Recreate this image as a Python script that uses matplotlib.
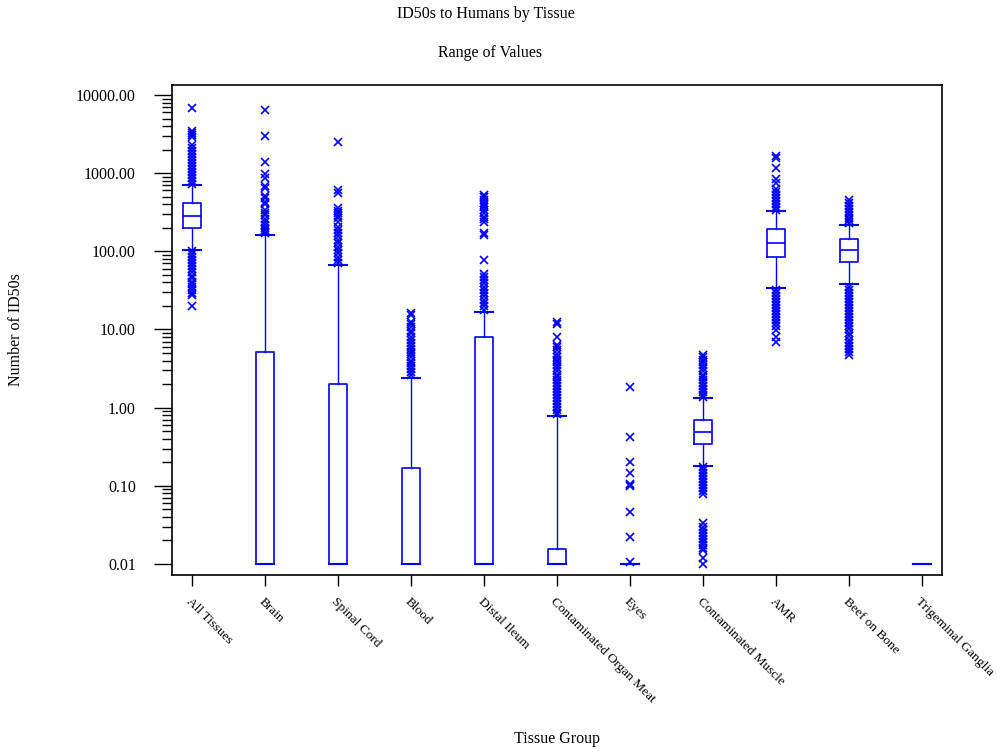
import numpy as np
import matplotlib
matplotlib.use('Agg')
import matplotlib.pyplot as plt
from matplotlib.ticker import FixedLocator, FixedFormatter, NullFormatter

plt.rcParams['font.family'] = ['Liberation Serif', 'DejaVu Serif']

# Tissue groups and box statistics
tissues = ['All Tissues', 'Brain', 'Spinal Cord', 'Blood', 'Distal Ileum',
           'Contaminated Organ Meat', 'Eyes', 'Contaminated Muscle', 'AMR',
           'Beef on Bone', 'Trigeminal Ganglia']
whislo = [104, 0.01, 0.01, 0.01, 0.01, 0.01, 0.01, 0.181, 34.3, 37.9, 0.01]
q1 = [199, 0.01, 0.01, 0.01, 0.01, 0.01, 0.01, 0.340, 83.9, 72.4, 0.01]
med = [283, 0.01, 0.01, 0.01, 0.01, 0.01, 0.01, 0.484, 129, 105, 0.01]
q3 = [415, 5.1, 2.0, 0.169, 8.1, 0.0154, 0.01, 0.703, 191, 143, 0.01]
whishi = [706, 162, 66, 2.40, 16.9, 0.783, 0.01, 1.32, 325, 219, 0.01]

# outliers per group
fliers = [
    [6820, 3500, 3300, 3100, 2900, 2290, 2100, 1920, 1760, 1610, 1480, 1350,
     1240, 1130, 1040, 950, 870, 800, 730,
     100, 92, 84, 77, 70, 64, 59, 54, 49, 45, 41, 38, 35, 32, 29, 27.5, 19.8],
    [6370, 2966, 1403, 984, 859, 692, 640, 515, 480, 432, 400, 338, 310, 292,
     260, 240, 220, 197, 185, 178, 170],
    [2483, 609, 552, 355, 330, 307, 285, 265, 240, 207, 190, 170, 155, 140,
     127, 115, 104, 94, 85, 77.5, 70],
    [16.2, 15.4, 12.6, 11.6, 10.6, 9.7, 8.9, 8.1, 7.4, 6.8, 6.2, 5.7, 5.2,
     4.8, 4.4, 4.0, 3.7, 3.4, 3.1, 2.85, 2.6],
    [526, 490, 454, 420, 392, 365, 338, 305, 278, 258, 240, 170, 162, 77.5,
     52, 47, 43, 39, 35, 32, 29, 26.5, 24, 22, 20, 18],
    [12.3, 11.7, 8.1, 6.4, 5.9, 5.4, 4.9, 4.5, 4.1, 3.8, 3.5, 3.2, 2.9, 2.65,
     2.45, 2.25, 2.05, 1.88, 1.72, 1.58, 1.45, 1.33, 1.22, 1.12, 1.02, 0.94,
     0.86, 0.82],
    [1.86, 0.418, 0.200, 0.1445, 0.105, 0.102, 0.099, 0.0458, 0.022, 0.0105],
    [4.72, 4.5, 4.1, 3.8, 3.5, 3.2, 2.9, 2.65, 2.45, 2.25, 2.05, 1.88, 1.72,
     1.58, 1.45, 1.37,
     0.172, 0.158, 0.145, 0.133, 0.122, 0.112, 0.102, 0.094, 0.086, 0.079,
     0.0332, 0.030, 0.0275, 0.025, 0.023, 0.021, 0.019, 0.0175, 0.016,
     0.0151, 0.0119, 0.0099],
    [1660, 1549, 1153, 841, 755, 621, 570, 520, 480, 440, 405, 370, 340,
     32, 29, 27, 24.5, 22.5, 20.5, 19, 17.3, 15.9, 14.6, 13.3, 12.2, 11.2,
     9.86, 8.1, 6.86],
    [454, 415, 380, 350, 320, 295, 270, 248, 230,
     35, 32, 29, 27, 24.5, 22.5, 20.5, 19, 17.3, 15.9, 14.6, 13.3, 12.2,
     11, 10, 9, 8.2, 7.4, 6.7, 6.1, 5.6, 5.1, 4.72],
    [],
]

ytick_vals = [0.01, 0.1, 1, 10, 100, 1000, 10000]
ytick_labels = ['0.01', '0.10', '1.00', '10.00', '100.00', '1000.00', '10000.00']

stats = []
for i in range(len(tissues)):
    stats.append({'label': tissues[i], 'whislo': whislo[i], 'q1': q1[i],
                  'med': med[i], 'q3': q3[i], 'whishi': whishi[i],
                  'fliers': fliers[i]})

fig = plt.figure(figsize=(9.97, 7.52), dpi=100)
ax = fig.add_axes([0.1725, 0.2354, 0.7723, 0.6516])

blue = '#0000ff'
positions = np.arange(1, len(tissues) + 1)
ax.bxp(stats, positions=positions, widths=0.25, capwidths=0.25,
       boxprops=dict(color=blue, linewidth=1.2),
       medianprops=dict(color=blue, linewidth=1.2),
       whiskerprops=dict(color=blue, linewidth=1.0),
       capprops=dict(color=blue, linewidth=1.5),
       flierprops=dict(marker='x', markeredgecolor=blue, markersize=5.5,
                       markeredgewidth=1.2, linestyle='none'))

ax.set_yscale('log')
ax.set_ylim(10 ** -2.141, 10 ** 4.128)
ax.set_xlim(0.726, 11.274)

ax.yaxis.set_major_locator(FixedLocator(ytick_vals))
ax.yaxis.set_major_formatter(FixedFormatter(ytick_labels))
minor_vals = [m * 10.0 ** e for e in range(-2, 4) for m in range(2, 10)]
ax.yaxis.set_minor_locator(FixedLocator(minor_vals))
ax.yaxis.set_minor_formatter(NullFormatter())

ax.set_xticks(positions)
ax.set_xticklabels(tissues, rotation=-45, ha='left', va='top',
                   rotation_mode='anchor')

ax.tick_params(axis='y', which='major', length=13, width=1, pad=13,
               labelsize=11.5)
ax.tick_params(axis='y', which='minor', length=7, width=1)
ax.tick_params(axis='x', which='major', length=8, width=1, pad=7,
               labelsize=9.6)
ax.tick_params(top=False, right=False)

for s in ax.spines.values():
    s.set_linewidth(1.2)

ax.set_xlabel('Tissue Group', fontsize=11.5)
ax.xaxis.set_label_coords(0.5, -0.318)
ax.set_ylabel('Number of ID50s', fontsize=11.5)
ax.yaxis.set_label_coords(-0.192, 0.5)

fig.text(0.487, 0.981, 'ID50s to Humans by Tissue', ha='center', va='center',
         fontsize=11.5)
fig.text(0.492, 0.930, 'Range of Values', ha='center', va='center',
         fontsize=11.5)

fig.savefig('out.png', dpi=100)
